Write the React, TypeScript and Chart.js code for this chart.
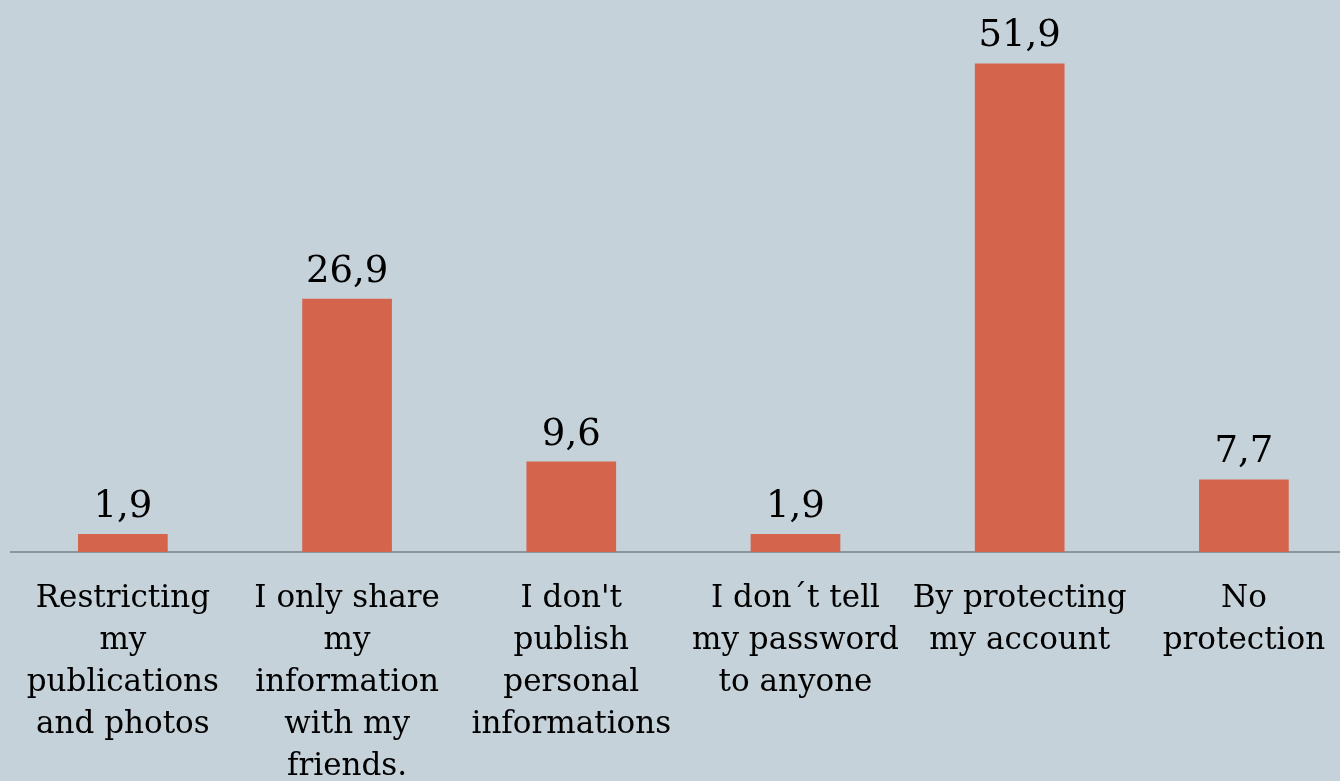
import React, { useEffect, useRef } from "react";
import { Chart, registerables } from "chart.js";

Chart.register(...registerables);

const categories: string[][] = [
  ["Restricting", "my", "publications", "and photos"],
  ["I only share", "my", "information", "with my", "friends."],
  ["I don't", "publish", "personal", "informations"],
  ["I don´t tell", "my password", "to anyone"],
  ["By protecting", "my account"],
  ["No", "protection"],
];
const values: number[] = [1.9, 26.9, 9.6, 1.9, 51.9, 7.7];
const valueLabels: string[] = ["1,9", "26,9", "9,6", "1,9", "51,9", "7,7"];

const BG = "#c6d2d9";
const BAR = "#d4644b";
const FONT = "'DejaVu Serif', serif";

const valueLabelPlugin = {
  id: "valueLabels",
  afterDatasetsDraw(chart: any) {
    const ctx = chart.ctx;
    const meta = chart.getDatasetMeta(0);
    ctx.save();
    ctx.fillStyle = "#000";
    ctx.font = `37px ${FONT}`;
    ctx.textAlign = "center";
    ctx.textBaseline = "alphabetic";
    meta.data.forEach((el: any, i: number) => {
      ctx.fillText(valueLabels[i], el.x, el.y - 17);
    });
    ctx.restore();
  },
};

export default function App() {
  const ref = useRef<HTMLCanvasElement>(null);
  useEffect(() => {
    document.body.style.margin = "0";
    document.body.style.background = BG;
    const chart = new Chart(ref.current!, {
      type: "bar",
      data: {
        labels: categories,
        datasets: [
          {
            data: values,
            backgroundColor: BAR,
            borderWidth: 0,
            categoryPercentage: 1,
            barPercentage: 0.4,
          },
        ],
      },
      options: {
        responsive: false,
        animation: false,
        layout: { padding: { left: 9, right: 4, top: 6, bottom: 0 } },
        plugins: { legend: { display: false }, tooltip: { enabled: false } },
        scales: {
          x: {
            grid: { display: false, drawTicks: false },
            border: { display: true, color: "#8e9599", width: 2 },
            ticks: {
              autoSkip: false,
              maxRotation: 0,
              minRotation: 0,
              padding: 26,
              color: "#000",
              font: { family: FONT, size: 31, lineHeight: 1.355 },
            },
          },
          y: {
            display: false,
            min: 0,
            max: 58,
          },
        },
      },
      plugins: [valueLabelPlugin],
    });
    return () => chart.destroy();
  }, []);
  return (
    <div
      style={{
        position: "fixed",
        left: 0,
        top: 0,
        width: 1340,
        height: 781,
        overflow: "hidden",
        background: BG,
      }}
    >
      <canvas ref={ref} width={1360} height={814} style={{ display: "block" }} />
    </div>
  );
}
